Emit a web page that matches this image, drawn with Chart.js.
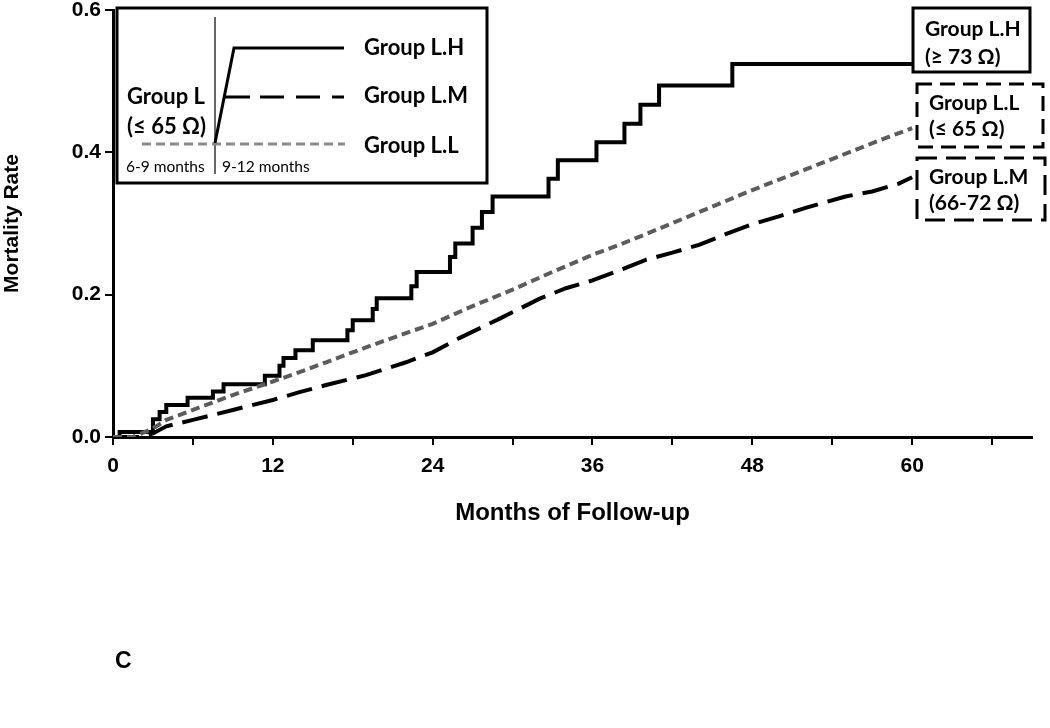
<!DOCTYPE html>
<html>
<head>
<meta charset="utf-8">
<script src="https://cdn.jsdelivr.net/npm/chart.js@4/dist/chart.umd.min.js"></script>
<style>
  html, body { margin: 0; padding: 0; background: #fff; }
  #wrap { width: 1050px; height: 728px; position: relative; }
</style>
</head>
<body>
<div id="wrap"><canvas id="km"></canvas></div>
<script>
// Group L.H (>= 73 ohm) - step function, event times and cumulative rates
const lhMonths = [0, 0.5, 3.0, 3.5, 4.0, 5.6, 7.5, 8.3, 11.4, 12.5, 12.8, 13.7, 15.0, 17.6, 18.0, 19.5, 19.8, 22.4, 22.8, 25.3, 25.7, 27.0, 27.7, 28.5, 32.7, 33.4, 36.3, 38.4, 39.6, 41.0, 46.5, 60];
const lhRates  = [0, 0.007, 0.025, 0.035, 0.045, 0.055, 0.064, 0.074, 0.086, 0.100, 0.111, 0.122, 0.136, 0.150, 0.164, 0.180, 0.195, 0.212, 0.232, 0.253, 0.272, 0.294, 0.316, 0.338, 0.363, 0.389, 0.414, 0.440, 0.467, 0.494, 0.524, 0.524];

// Group L.M (66-72 ohm)
const lmMonths = [0, 2, 3, 4, 6, 9, 12, 14, 16, 19, 22, 24, 26, 29, 32, 34, 36, 38, 40, 42, 44, 46, 48, 50, 52, 55, 57, 59, 60];
const lmRates  = [0, 0, 0.005, 0.015, 0.024, 0.038, 0.052, 0.063, 0.073, 0.087, 0.105, 0.119, 0.139, 0.166, 0.194, 0.209, 0.220, 0.234, 0.249, 0.259, 0.270, 0.285, 0.299, 0.310, 0.322, 0.338, 0.345, 0.356, 0.365];

// Group L.L (<= 65 ohm)
const llMonths = [0, 1.5, 3, 4, 6, 9, 12, 14, 16, 19, 22, 24, 27, 30, 33, 36, 38, 40, 44, 48, 52, 55, 58, 60];
const llRates  = [0, 0, 0.012, 0.024, 0.038, 0.059, 0.078, 0.091, 0.105, 0.126, 0.146, 0.159, 0.184, 0.207, 0.232, 0.256, 0.270, 0.285, 0.316, 0.347, 0.376, 0.398, 0.420, 0.434];

const xTickStep = 6;
const yTicks = [0, 0.2, 0.4, 0.6];

function pts(xs, ys) { return xs.map((x, i) => ({x: x, y: ys[i]})); }

const sans = "'Liberation Sans', Arial, sans-serif";
const cal = "Lato, 'Open Sans', sans-serif";

function boxText(ctx, lines, x, y0, dy) {
  lines.forEach((t, i) => ctx.fillText(t, x, y0 + i * dy));
}

const decor = {
  id: 'decor',
  afterDraw(chart) {
    const ctx = chart.ctx;
    ctx.save();
    ctx.textBaseline = 'middle';

    // inset legend box
    ctx.fillStyle = '#fff';
    ctx.fillRect(117, 8, 370, 175);
    ctx.strokeStyle = '#000';
    ctx.lineWidth = 3;
    ctx.setLineDash([]);
    ctx.strokeRect(117, 8, 370, 175);

    // thin divider
    ctx.lineWidth = 1.2;
    ctx.beginPath(); ctx.moveTo(215, 17); ctx.lineTo(215, 174); ctx.stroke();

    // L.L sample (gray dashed)
    ctx.strokeStyle = '#8a8a8a';
    ctx.lineWidth = 3;
    ctx.setLineDash([9, 5]);
    ctx.beginPath(); ctx.moveTo(142, 144); ctx.lineTo(345, 144); ctx.stroke();

    // L.H sample
    ctx.strokeStyle = '#000';
    ctx.setLineDash([]);
    ctx.lineWidth = 3;
    ctx.beginPath(); ctx.moveTo(215, 143); ctx.lineTo(234, 48); ctx.lineTo(344, 48); ctx.stroke();

    // L.M sample
    ctx.beginPath(); ctx.moveTo(225, 97); ctx.lineTo(250, 97); ctx.stroke();
    ctx.setLineDash([24, 12]);
    ctx.beginPath(); ctx.moveTo(260, 97); ctx.lineTo(344, 97); ctx.stroke();
    ctx.setLineDash([]);

    ctx.fillStyle = '#000';
    ctx.font = "bold 22px " + cal;
    ctx.textAlign = 'left';
    ctx.fillText('Group L.H', 364, 48);
    ctx.fillText('Group L.M', 364, 96);
    ctx.fillText('Group L.L', 364, 146);
    ctx.fillText('Group L', 127, 97);
    ctx.fillText('(\u2264 65 \u03A9)', 127, 127);
    ctx.font = "15.5px " + cal;
    ctx.fillText('6-9 months', 126, 167);
    ctx.fillText('9-12 months', 222, 167);

    // right-hand group boxes
    ctx.lineWidth = 3;
    ctx.fillStyle = '#fff';
    ctx.fillRect(913, 8, 117, 64);
    ctx.strokeRect(913, 8, 117, 64);

    ctx.fillRect(917, 84, 126, 63);
    ctx.setLineDash([15, 8]);
    ctx.strokeRect(917, 84, 126, 63);

    ctx.fillRect(917, 158, 128, 62);
    ctx.setLineDash([20, 9]);
    ctx.strokeRect(917, 158, 128, 62);
    ctx.setLineDash([]);

    ctx.fillStyle = '#000';
    ctx.font = "bold 21px " + cal;
    boxText(ctx, ['Group L.H', '(\u2265 73 \u03A9)'], 925, 29, 28);
    boxText(ctx, ['Group L.L', '(\u2264 65 \u03A9)'], 929, 103, 26);
    boxText(ctx, ['Group L.M', '(66-72 \u03A9)'], 929, 177, 26);

    // panel letter
    ctx.font = "bold 23px " + sans;
    ctx.fillText('C', 115, 662);
    ctx.restore();
  }
};

new Chart(document.getElementById('km'), {
  type: 'line',
  data: {
    datasets: [
      {
        label: 'Group L.L',
        data: pts(llMonths, llRates),
        borderColor: '#5c5c5c',
        borderWidth: 4,
        borderDash: [9, 5],
        pointRadius: 0,
        tension: 0,
        fill: false
      },
      {
        label: 'Group L.M',
        data: pts(lmMonths, lmRates),
        borderColor: '#000',
        borderWidth: 4,
        borderDash: [26, 10],
        pointRadius: 0,
        tension: 0,
        fill: false
      },
      {
        label: 'Group L.H',
        data: pts(lhMonths, lhRates),
        borderColor: '#000',
        borderWidth: 4,
        stepped: 'before',
        pointRadius: 0,
        fill: false
      }
    ]
  },
  options: {
    responsive: true,
    maintainAspectRatio: false,
    animation: false,
    layout: { padding: { left: 0, top: 10, right: 18, bottom: 200 } },
    plugins: { legend: { display: false }, tooltip: { enabled: false } },
    scales: {
      x: {
        type: 'linear',
        min: 0,
        max: 69,
        afterFit(s) { s.height = 91; },
        afterBuildTicks(s) { s.ticks = s.ticks.filter(t => t.value % xTickStep === 0); },
        ticks: {
          stepSize: xTickStep,
          autoSkip: false,
          maxRotation: 0,
          padding: 9,
          color: '#000',
          font: { family: sans, size: 21, weight: 'bold' },
          callback: v => (v % 12 === 0 && v <= 60) ? String(v) : ''
        },
        grid: { drawOnChartArea: false, drawTicks: true, tickLength: 8, color: '#000', lineWidth: 2 },
        border: { display: true, color: '#000', width: 3 },
        title: {
          display: true,
          text: 'Months of Follow-up',
          color: '#000',
          padding: 0,
          font: { family: sans, size: 24, weight: 'bold' }
        }
      },
      y: {
        min: 0,
        max: 0.6,
        afterFit(s) { s.width = 113; s.paddingTop = 0; s.paddingBottom = 0; },
        afterBuildTicks(s) { s.ticks = yTicks.map(v => ({value: v})); },
        ticks: {
          padding: 4,
          color: '#000',
          font: { family: sans, size: 21, weight: 'bold' },
          callback: v => Number(v).toFixed(1)
        },
        grid: { drawOnChartArea: false, drawTicks: true, tickLength: 8, color: '#000', lineWidth: 2 },
        border: { display: true, color: '#000', width: 3 },
        title: {
          display: true,
          text: 'Mortality Rate',
          color: '#000',
          padding: 0,
          font: { family: sans, size: 21, weight: 'bold' }
        }
      }
    }
  },
  plugins: [decor]
});
</script>
</body>
</html>
